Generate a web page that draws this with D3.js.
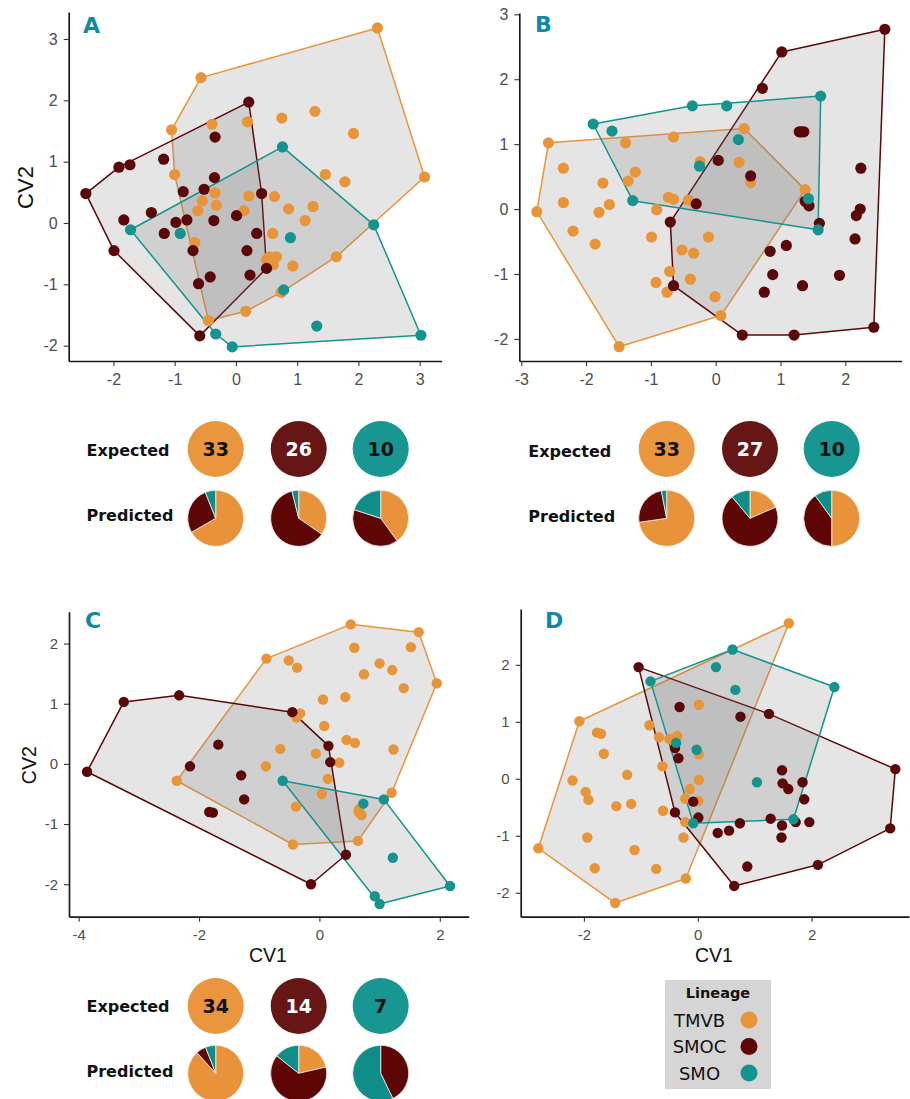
<!DOCTYPE html>
<html>
<head>
<meta charset="utf-8">
<script src="https://cdn.jsdelivr.net/npm/d3@7"></script>
<style>
  html, body { margin: 0; padding: 0; background: #ffffff; }
  svg { display: block; }
</style>
</head>
<body>
<svg id="fig" width="910" height="1099"></svg>
<script>
// ---- lineages ----
const lineages = ["TMVB", "SMOC", "SMO"];

// ---- canonical variate scores (CV1, CV2) per panel and lineage ----
const A_TMVB = [[2.31,3.18],[-0.57,2.37],[-1.05,1.52],[1.29,1.82],[0.75,1.71],[0.19,1.65],[-0.39,1.61],[1.92,1.46],[3.08,0.75],[1.46,0.79],[1.78,0.67],[-1.00,0.79],[-0.34,0.49],[-0.32,0.29],[-0.55,0.36],[-0.62,0.20],[0.21,0.44],[0.63,0.43],[0.13,0.20],[0.86,0.23],[1.26,0.27],[1.13,0.04],[0.60,-0.17],[-0.67,-0.32],[0.55,-0.55],[0.66,-0.55],[0.61,-0.68],[0.50,-0.60],[0.93,-0.70],[1.64,-0.55],[0.74,-1.13],[0.16,-1.44],[-0.45,-1.59]];
const A_SMOC = [[0.21,1.97],[-0.34,1.40],[-1.18,1.04],[-1.91,0.91],[-1.73,0.95],[-2.45,0.48],[-0.35,0.74],[-0.86,0.51],[-0.52,0.55],[0.42,0.48],[-1.38,0.17],[-1.83,0.05],[-0.98,0.01],[-0.80,0.05],[-0.36,0.04],[0.01,0.12],[-1.17,-0.17],[0.34,-0.17],[-1.99,-0.45],[-0.70,-0.45],[0.18,-0.45],[0.50,-0.74],[0.23,-0.85],[-0.42,-0.88],[-0.61,-0.99],[-0.59,-1.84]];
const A_SMO = [[0.76,1.24],[-1.72,-0.11],[-0.91,-0.17],[0.89,-0.24],[2.25,-0.03],[0.78,-1.09],[1.32,-1.68],[-0.33,-1.81],[-0.06,-2.02],[3.02,-1.83]];

const B_TMVB = [[-2.58,1.02],[-2.76,-0.04],[-1.49,-2.12],[0.08,-1.64],[1.38,0.30],[0.44,1.24],[-0.65,1.11],[-1.39,1.02],[-2.35,0.63],[-1.24,0.57],[-1.35,0.43],[-1.74,0.40],[-2.35,0.10],[-1.64,0.07],[-1.80,-0.05],[-0.91,-0.01],[-2.20,-0.34],[-1.86,-0.54],[-0.99,-0.43],[-0.73,0.18],[-0.65,0.15],[-0.42,0.14],[-0.24,0.73],[0.36,0.72],[0.54,0.41],[-0.11,-0.43],[-0.52,-0.63],[-0.34,-0.68],[-0.71,-0.96],[-0.92,-1.13],[-0.39,-1.08],[-0.75,-1.28],[-0.01,-1.35]];
const B_SMOC = [[2.61,2.77],[1.02,2.42],[0.72,1.86],[1.29,1.19],[1.32,1.19],[1.36,1.19],[0.04,0.75],[0.54,0.51],[2.24,0.63],[-0.30,0.08],[-0.70,-0.20],[1.38,0.12],[1.44,0.05],[1.60,-0.22],[2.23,0.00],[2.17,-0.10],[2.15,-0.46],[1.09,-0.56],[0.84,-0.65],[0.88,-1.01],[0.75,-1.28],[1.34,-1.18],[1.91,-1.02],[-0.65,-1.18],[0.41,-1.94],[1.21,-1.94],[2.44,-1.82]];
const B_SMO = [[-1.89,1.31],[-1.60,1.20],[-0.36,1.59],[0.17,1.59],[1.62,1.74],[0.35,1.07],[-0.25,0.66],[-1.28,0.13],[1.43,0.16],[1.58,-0.32]];

const C_TMVB = [[0.52,2.32],[1.65,2.19],[-0.88,1.75],[-0.51,1.72],[-0.37,1.60],[0.58,1.93],[1.52,1.94],[1.00,1.67],[1.21,1.56],[0.74,1.49],[1.95,1.34],[1.40,1.26],[0.06,1.07],[0.43,1.11],[-0.32,0.84],[-0.38,0.77],[0.08,0.63],[0.45,0.40],[0.59,0.35],[-0.65,0.25],[-0.06,0.17],[1.23,0.24],[0.33,0.02],[-0.89,-0.04],[-2.37,-0.28],[0.14,-0.25],[0.04,-0.50],[1.20,-0.48],[-0.39,-0.71],[0.65,-0.80],[0.70,-0.85],[0.66,-0.75],[-0.44,-1.34],[0.64,-1.28]];
const C_SMOC = [[-3.86,-0.13],[-3.25,1.03],[-2.33,1.14],[-0.45,0.86],[0.15,0.30],[0.18,0.03],[-1.68,0.32],[-2.15,-0.04],[-1.30,-0.19],[-1.25,-0.59],[-1.83,-0.80],[-1.77,-0.81],[0.44,-1.51],[-0.14,-2.00]];
const C_SMO = [[-0.61,-0.28],[0.73,-0.66],[1.07,-0.59],[1.22,-1.56],[2.17,-2.03],[0.92,-2.20],[1.00,-2.33]];

const D_TMVB = [[1.60,2.73],[-2.08,1.01],[-2.80,-1.22],[-1.45,-2.18],[-0.21,-1.75],[0.02,1.30],[-0.85,0.94],[-1.77,0.81],[-1.70,0.79],[-0.68,0.73],[-0.50,0.70],[-0.36,0.75],[-0.40,0.62],[-1.65,0.44],[0.02,0.43],[-0.62,0.22],[-1.24,0.07],[-2.20,-0.03],[-1.97,-0.23],[-1.92,-0.37],[-1.43,-0.48],[-1.17,-0.44],[0.02,-0.02],[-0.14,-0.18],[-0.22,-0.35],[0.01,-0.39],[-0.61,-0.56],[-0.22,-0.76],[-1.94,-1.03],[-0.25,-1.03],[-1.11,-1.25],[-1.81,-1.57],[-0.73,-1.58]];
const D_SMOC = [[-1.04,1.96],[-0.32,1.26],[0.75,1.09],[1.25,1.14],[-0.40,0.54],[-0.34,0.36],[3.47,0.17],[1.48,0.15],[1.49,-0.08],[1.59,-0.18],[1.84,-0.06],[1.87,-0.36],[-0.08,-0.40],[-0.40,-0.59],[0.01,-0.68],[1.28,-0.70],[1.48,-0.82],[1.72,-0.76],[1.96,-0.76],[0.74,-0.78],[0.55,-0.91],[0.35,-0.95],[1.47,-1.03],[3.38,-0.87],[0.87,-1.54],[2.11,-1.51],[0.64,-1.88]];
const D_SMO = [[0.61,2.27],[0.32,1.96],[-0.83,1.71],[0.66,1.56],[2.40,1.61],[-0.38,0.63],[-0.02,0.51],[1.04,-0.06],[1.68,-0.71],[-0.08,-0.78]];

// ---- axis ticks per panel ----
const ticksAx = [-2, -1, 0, 1, 2, 3];
const ticksAy = [-2, -1, 0, 1, 2, 3];
const ticksBx = [-3, -2, -1, 0, 1, 2];
const ticksBy = [-2, -1, 0, 1, 2, 3];
const ticksCx = [-4, -2, 0, 2];
const ticksCy = [-2, -1, 0, 1, 2];
const ticksDx = [-2, 0, 2];
const ticksDy = [-2, -1, 0, 1, 2];

// ---- classification counts: expected group sizes, predicted (TMVB, SMOC, SMO) ----
const expectedA = [33, 26, 10];
const predictedA = [[22, 9, 2], [9, 16, 1], [4, 4, 2]];
const expectedB = [33, 27, 10];
const predictedB = [[24, 8, 1], [5, 19, 3], [5, 4, 1]];
const expectedC = [34, 14, 7];
const predictedC = [[30, 2, 2], [3, 9, 2], [0, 3, 4]];

// ---- styling ----
const pointCol = { TMVB: "#E8953A", SMOC: "#5C0707", SMO: "#15948F" };
const discCol  = { TMVB: "#E9963E", SMOC: "#671616", SMO: "#179692" };
const pieCol   = { TMVB: "#E8923A", SMOC: "#5E0505", SMO: "#0E8D89" };
const numCol   = { TMVB: "#111111", SMOC: "#ffffff", SMO: "#111111" };
const axisFont = "'Liberation Sans', Arial, sans-serif";
const boldFont = "'DejaVu Sans', Verdana, sans-serif";

const svg = d3.select("#fig");

const panels = [
  { id: "A", groups: [A_TMVB, A_SMOC, A_SMO], xd: [-2.73, 3.36], xr: [68.7, 441.7], yd: [-2.25, 3.44], yr: [361, 12],
    tx: ticksAx, ty: ticksAy, r: 5.6, tick: 16, title: 22, xTitle: false, yTitle: true, letter: [83, 33] },
  { id: "B", groups: [B_TMVB, B_SMOC, B_SMO], xd: [-3.03, 2.87], xr: [519.3, 901.7], yd: [-2.34, 3.02], yr: [361, 13],
    tx: ticksBx, ty: ticksBy, r: 5.6, tick: 16, title: 22, xTitle: false, yTitle: false, letter: [535, 32] },
  { id: "C", groups: [C_TMVB, C_SMOC, C_SMO], xd: [-4.16, 2.48], xr: [69, 468.7], yd: [-2.54, 2.53], yr: [916.7, 611.7],
    tx: ticksCx, ty: ticksCy, r: 5.2, tick: 15, title: 19.5, xTitle: true, yTitle: true, letter: [85, 628] },
  { id: "D", groups: [D_TMVB, D_SMOC, D_SMO], xd: [-3.11, 3.71], xr: [520.7, 909], yd: [-2.42, 2.98], yr: [916.7, 609],
    tx: ticksDx, ty: ticksDy, r: 5.2, tick: 15, title: 19.5, xTitle: true, yTitle: false, letter: [545, 628] }
];

panels.forEach(p => {
  const x = d3.scaleLinear().domain(p.xd).range(p.xr);
  const y = d3.scaleLinear().domain(p.yd).range(p.yr);
  const g = svg.append("g").attr("class", "panel-" + p.id);

  // convex hulls for each lineage
  const hullLayer = g.append("g");
  p.groups.forEach((pts, i) => {
    const hull = d3.polygonHull(pts.map(d => [x(d[0]), y(d[1])]));
    hullLayer.append("path")
      .attr("d", "M" + hull.map(q => q.join(",")).join("L") + "Z")
      .attr("fill", "#7f7f7f")
      .attr("fill-opacity", 0.2)
      .attr("stroke", pointCol[lineages[i]])
      .attr("stroke-width", 1.5)
      .attr("stroke-linejoin", "round");
  });

  // individual scores
  const ptLayer = g.append("g");
  p.groups.forEach((pts, i) => {
    ptLayer.selectAll(null).data(pts).enter().append("circle")
      .attr("cx", d => x(d[0]))
      .attr("cy", d => y(d[1]))
      .attr("r", p.r)
      .attr("fill", pointCol[lineages[i]]);
  });

  // axes
  const xAxis = g.append("g").attr("transform", `translate(0,${p.yr[0]})`)
    .call(d3.axisBottom(x).tickValues(p.tx).tickFormat(d3.format("d")).tickSize(5).tickSizeOuter(0).tickPadding(8));
  const yAxis = g.append("g").attr("transform", `translate(${p.xr[0]},0)`)
    .call(d3.axisLeft(y).tickValues(p.ty).tickFormat(d3.format("d")).tickSize(5).tickSizeOuter(0).tickPadding(6));
  [xAxis, yAxis].forEach(ax => {
    ax.select(".domain").attr("stroke", "#1a1a1a").attr("stroke-width", 1.7);
    ax.selectAll(".tick line").attr("stroke", "#333").attr("stroke-width", 1.1);
    ax.selectAll(".tick text").attr("fill", "#4d4d4d")
      .style("font-family", axisFont).style("font-size", p.tick + "px");
  });
  // tick labels use a hyphen-minus like the original typesetting
  g.selectAll(".tick text").text(function () { return this.textContent.replace("\u2212", "-"); });

  if (p.xTitle) {
    g.append("text")
      .attr("x", (p.xr[0] + p.xr[1]) / 2 - 1)
      .attr("y", 962)
      .attr("text-anchor", "middle")
      .style("font-family", axisFont).style("font-size", p.title + "px")
      .attr("fill", "#111").text("CV1");
  }
  if (p.yTitle) {
    const cy = (p.yr[0] + p.yr[1]) / 2 + 1;
    const cx = p.id === "A" ? 33 : 36;
    g.append("text")
      .attr("transform", `translate(${cx},${cy}) rotate(-90)`)
      .attr("text-anchor", "middle")
      .style("font-family", axisFont).style("font-size", p.title + "px")
      .attr("fill", "#111").text("CV2");
  }

  // panel letter
  g.append("text")
    .attr("x", p.letter[0]).attr("y", p.letter[1])
    .style("font-family", boldFont).style("font-weight", "bold").style("font-size", "22px")
    .attr("fill", "#0F88A8").text(p.id);
});

// ---- expected / predicted classification discs ----
const pieRows = [
  { expected: expectedA, predicted: predictedA, cx: [215.7, 298.7, 380.7], yE: 449, yP: 518.3, lx: 86.5, lyE: 455.5, lyP: 520.5 },
  { expected: expectedB, predicted: predictedB, cx: [666.7, 750, 831.7], yE: 449, yP: 518.3, lx: 528.3, lyE: 456.5, lyP: 521.5 },
  { expected: expectedC, predicted: predictedC, cx: [215.7, 298.7, 380.7], yE: 1006, yP: 1073.3, lx: 86.5, lyE: 1011.5, lyP: 1077 }
];
const R = 28;
const pie = d3.pie().sort(null).value(d => d.v);
const arc = d3.arc().innerRadius(0).outerRadius(R);

pieRows.forEach(row => {
  const g = svg.append("g");
  g.append("text").attr("x", row.lx).attr("y", row.lyE)
    .style("font-family", boldFont).style("font-weight", "bold").style("font-size", "16px")
    .attr("fill", "#111").text("Expected");
  g.append("text").attr("x", row.lx).attr("y", row.lyP)
    .style("font-family", boldFont).style("font-weight", "bold").style("font-size", "16px")
    .attr("fill", "#111").text("Predicted");

  row.expected.forEach((n, i) => {
    const key = lineages[i];
    g.append("circle").attr("cx", row.cx[i]).attr("cy", row.yE).attr("r", R).attr("fill", discCol[key]);
    g.append("text").attr("x", row.cx[i]).attr("y", row.yE + 7)
      .attr("text-anchor", "middle")
      .style("font-family", boldFont).style("font-weight", "bold").style("font-size", "19px")
      .attr("fill", numCol[key]).text(n);

    const slices = row.predicted[i].map((v, j) => ({ v, key: lineages[j] }));
    g.append("g").attr("transform", `translate(${row.cx[i]},${row.yP})`)
      .selectAll("path").data(pie(slices).filter(s => s.data.v > 0)).enter().append("path")
      .attr("d", arc)
      .attr("fill", s => pieCol[s.data.key])
      .attr("stroke", "#f4f0ea").attr("stroke-width", 0.8);
  });
});

// ---- legend ----
const lg = svg.append("g");
lg.append("rect").attr("x", 665).attr("y", 980).attr("width", 106).attr("height", 109).attr("fill", "#d5d5d5");
lg.append("text").attr("x", 718).attr("y", 997.5).attr("text-anchor", "middle")
  .style("font-family", boldFont).style("font-weight", "bold").style("font-size", "14.5px")
  .attr("fill", "#111").text("Lineage");
lineages.forEach((name, i) => {
  const cy = 1020 + i * 26.5;
  lg.append("text").attr("x", 699.5).attr("y", cy + 6.5).attr("text-anchor", "middle")
    .style("font-family", boldFont).style("font-size", "18px")
    .attr("fill", "#111").text(name);
  lg.append("circle").attr("cx", 749).attr("cy", cy).attr("r", 8.5).attr("fill", pointCol[name]);
});
</script>
</body>
</html>
